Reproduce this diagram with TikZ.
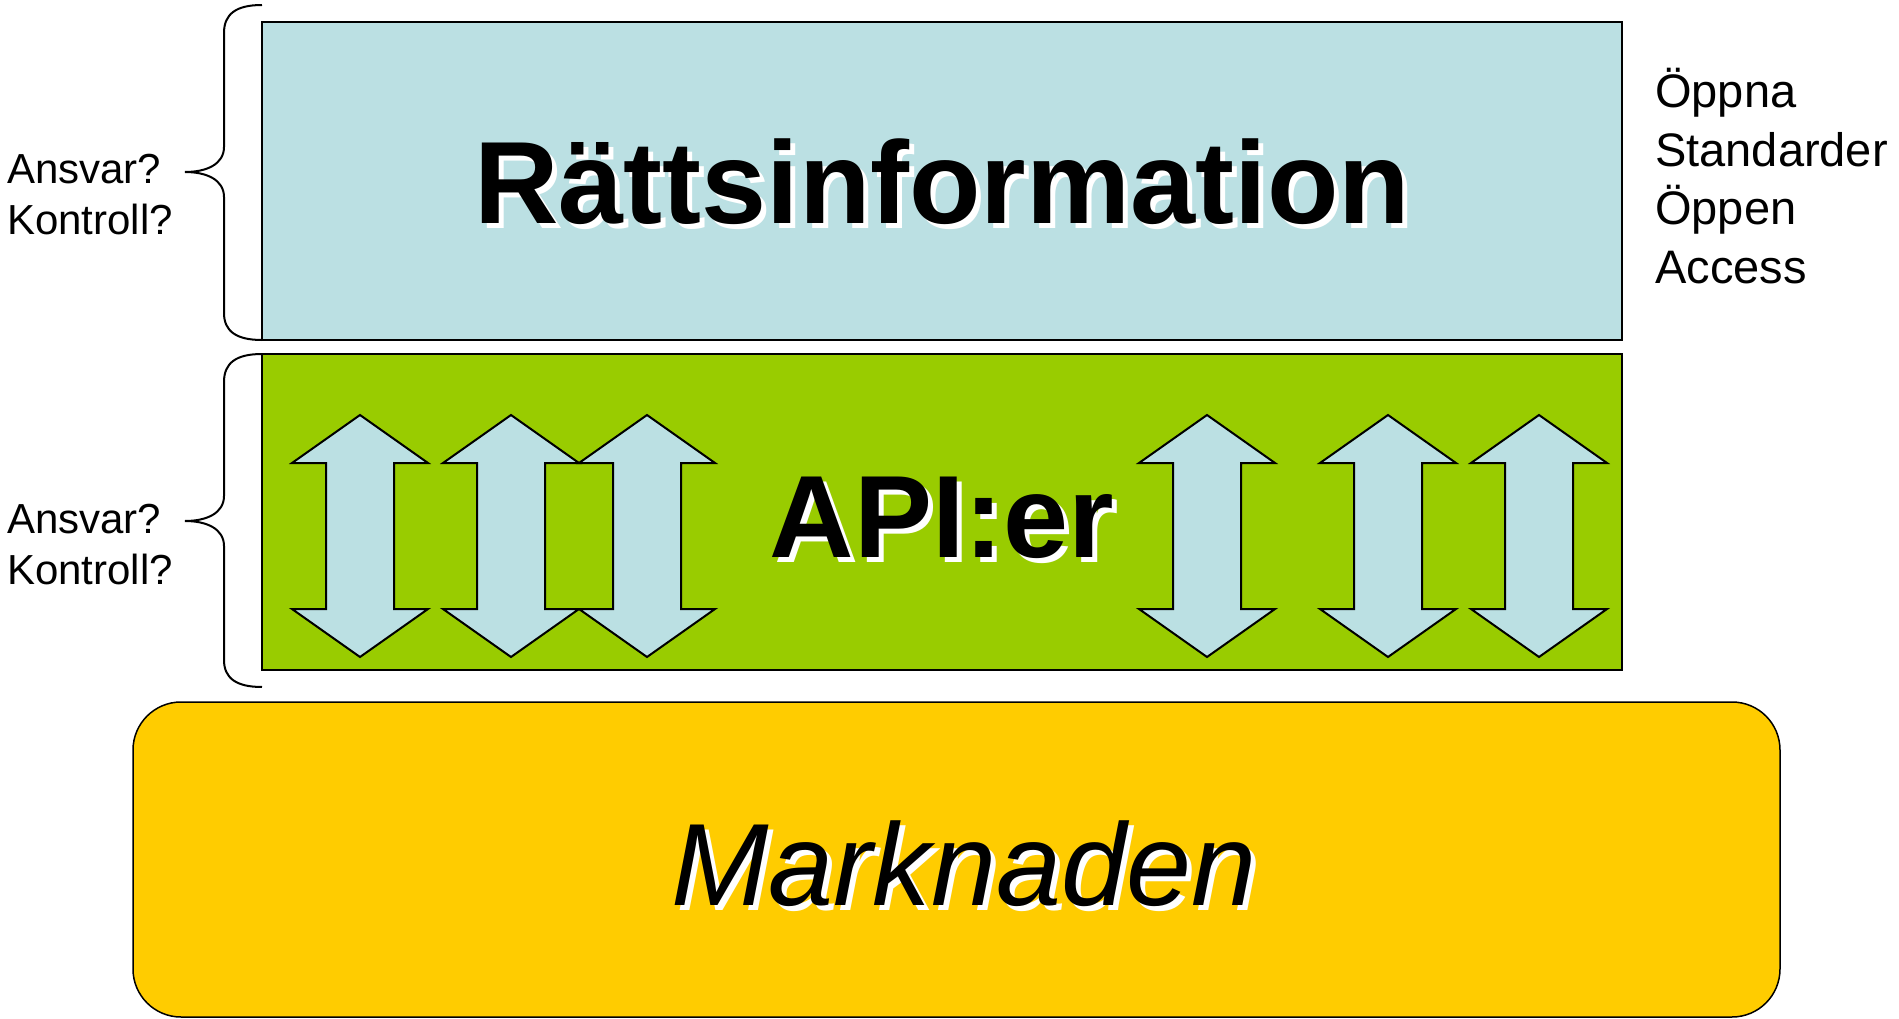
\documentclass[tikz,border=0pt]{standalone}
\usepackage{fontspec}
\setmainfont{Liberation Sans}
\definecolor{infoblue}{HTML}{BBE0E3}
\definecolor{apigreen}{HTML}{99CC00}
\definecolor{marketyellow}{HTML}{FFCC00}
\begin{document}
\begin{tikzpicture}[x=1pt,y=-1pt,
  layerbox/.style={draw=black, line width=1.5pt, inner sep=0pt},
  bigtext/.style={inner sep=0pt},
  shadowtxt/.style={bigtext, text=white},
  sidetext/.style={inner sep=0pt, align=left, anchor=north west},
  bracepath/.style={draw=black, line width=2pt},
  updownarrow/.style={draw=black, line width=2pt, fill=infoblue, line join=miter}
]
\useasboundingbox (0,0) rectangle (1899,1019);

% layers
\node[layerbox, fill=infoblue, minimum width=1360pt, minimum height=318pt] (info) at (942,181) {};
\node[layerbox, fill=apigreen, minimum width=1360pt, minimum height=316pt] (api) at (942,512) {};
\node[layerbox, fill=marketyellow, rounded corners=48pt, minimum width=1647pt, minimum height=315pt] (market) at (956.5,859.5) {};

% double arrows
\foreach \cx in {360,511,647,1207,1388,1539}{
  \draw[updownarrow] (\cx,415) -- (\cx+68,463) -- (\cx+34,463) -- (\cx+34,609) -- (\cx+68,609)
    -- (\cx,657) -- (\cx-68,609) -- (\cx-34,609) -- (\cx-34,463) -- (\cx-68,463) -- cycle;
}

% titles with shadows
\node[shadowtxt, anchor=base, font=\fontsize{117}{140}\selectfont\bfseries] (infoshadow) at (947,229) {Rättsinformation};
\node[bigtext, anchor=base, font=\fontsize{117}{140}\selectfont\bfseries] (infotitle) at (942,224) {Rättsinformation};
\node[shadowtxt, anchor=base, font=\fontsize{117}{140}\selectfont\bfseries] (apishadow) at (947,562) {API:er};
\node[bigtext, anchor=base, font=\fontsize{117}{140}\selectfont\bfseries] (apititle) at (942,557) {API:er};
\node[shadowtxt, anchor=base, font=\fontsize{117}{140}\selectfont\itshape] (marketshadow) at (969,910) {Marknaden};
\node[bigtext, anchor=base, font=\fontsize{117}{140}\selectfont\itshape] (markettitle) at (964,905) {Marknaden};

% braces
\coordinate (b1top) at (262,5);
\coordinate (b1tip) at (185,172);
\coordinate (b1bot) at (262,340);
\draw[bracepath] (b1top) .. controls (236,5) and (224,14) .. (224,33) -- (224,147)
  .. controls (224,164) and (207,172) .. (b1tip)
  .. controls (207,172) and (224,180) .. (224,197) -- (224,313)
  .. controls (224,331) and (236,340) .. (b1bot);
\coordinate (b2top) at (262,354);
\coordinate (b2tip) at (185,521);
\coordinate (b2bot) at (262,687);
\draw[bracepath] (b2top) .. controls (236,354) and (224,363) .. (224,382) -- (224,496)
  .. controls (224,513) and (207,521) .. (b2tip)
  .. controls (207,521) and (224,529) .. (224,546) -- (224,660)
  .. controls (224,678) and (236,687) .. (b2bot);

% side texts
\node[sidetext, font=\fontsize{42}{51}\selectfont] (ctrl1) at (7,154) {Ansvar?\\Kontroll?};
\node[sidetext, font=\fontsize{42}{51}\selectfont] (ctrl2) at (7,504) {Ansvar?\\Kontroll?};
\node[sidetext, font=\fontsize{47}{58.5}\selectfont] (open) at (1655,68) {Öppna\\Standarder\\Öppen\\Access};
\end{tikzpicture}
\end{document}
